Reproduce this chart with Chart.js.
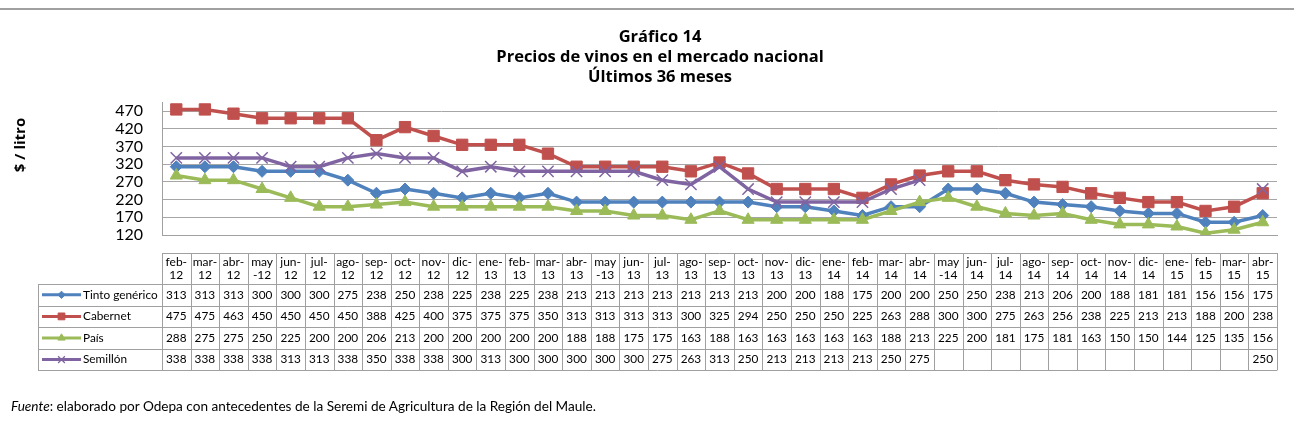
<!DOCTYPE html>
<html>
<head>
<meta charset="utf-8">
<script src="https://cdn.jsdelivr.net/npm/chart.js@4.4.1/dist/chart.umd.min.js"></script>
<style>
  html, body { margin: 0; padding: 0; background: #fff; }
  #wrap { position: relative; width: 1294px; height: 433px; }
  #note { position: absolute; left: 11px; top: 398px; font: 13.6px Lato, sans-serif; color: #000; }
</style>
</head>
<body>
<div id="wrap">
  <canvas id="chart" width="1294" height="433"></canvas>
  <div id="note"><i>Fuente</i>: elaborado por Odepa con antecedentes de la Seremi de Agricultura de la Región del Maule.</div>
</div>
<script>
const months = [
  "feb-12", "mar-12", "abr-12", "may-12", "jun-12", "jul-12", "ago-12", "sep-12", "oct-12", "nov-12", "dic-12",
  "ene-13", "feb-13", "mar-13", "abr-13", "may-13", "jun-13", "jul-13", "ago-13", "sep-13", "oct-13", "nov-13", "dic-13",
  "ene-14", "feb-14", "mar-14", "abr-14", "may-14", "jun-14", "jul-14", "ago-14", "sep-14", "oct-14", "nov-14", "dic-14",
  "ene-15", "feb-15", "mar-15", "abr-15",
];
const tinto = [313, 313, 313, 300, 300, 300, 275, 238, 250, 238, 225, 238, 225, 238, 213, 213, 213, 213, 213, 213, 213, 200, 200, 188, 175, 200, 200, 250, 250, 238, 213, 206, 200, 188, 181, 181, 156, 156, 175];
const cabernet = [475, 475, 463, 450, 450, 450, 450, 388, 425, 400, 375, 375, 375, 350, 313, 313, 313, 313, 300, 325, 294, 250, 250, 250, 225, 263, 288, 300, 300, 275, 263, 256, 238, 225, 213, 213, 188, 200, 238];
const pais = [288, 275, 275, 250, 225, 200, 200, 206, 213, 200, 200, 200, 200, 200, 188, 188, 175, 175, 163, 188, 163, 163, 163, 163, 163, 188, 213, 225, 200, 181, 175, 181, 163, 150, 150, 144, 125, 135, 156];
const semillon = [338, 338, 338, 338, 313, 313, 338, 350, 338, 338, 300, 313, 300, 300, 300, 300, 300, 275, 263, 313, 250, 213, 213, 213, 213, 250, 275, null, null, null, null, null, null, null, null, null, null, null, 250];
const seriesNames = ["Tinto genérico", "Cabernet", "País", "Semillón"];
const yTicks = [120, 170, 220, 270, 320, 370, 420, 470];
const titleLines = ["Gráfico 14", "Precios de vinos en el mercado nacional", "Últimos 36 meses"];
const yTitle = "$ / litro";

const FONT = "Lato, 'Open Sans', sans-serif";
const BOLD_FONT = "'Open Sans', Lato, sans-serif";

// excel wraps "may-12" as "may" / "-12", the rest as "feb-" / "12"
const splitMonth = (m) => {
  const [mon, yy] = m.split("-");
  return mon === "may" ? [mon, "-" + yy] : [mon + "-", yy];
};

const makeSet = (label, data, color, style, radius, order) => ({
  label,
  data,
  borderColor: color,
  backgroundColor: color,
  pointBackgroundColor: color,
  pointBorderColor: color,
  pointStyle: style,
  pointRadius: radius,
  pointBorderWidth: style === "crossRot" ? 1.5 : 1,
  borderWidth: 3.5,
  tension: 0,
  order,
});

const datasets = [
  makeSet(seriesNames[0], tinto, "#4f81bd", "rectRot", 6, 4),
  makeSet(seriesNames[1], cabernet, "#c0504d", "rect", 8, 3),
  makeSet(seriesNames[2], pais, "#9bbb59", "triangle", 7, 2),
  makeSet(seriesNames[3], semillon, "#8064a2", "crossRot", 8, 1),
];

const textPlugin = {
  id: "texts",
  afterDraw(chart) {
    const ctx = chart.ctx;
    ctx.save();
    ctx.fillStyle = "#a0a0a0";
    ctx.fillRect(0, 8, chart.width, 2);
    ctx.fillStyle = "#000";
    ctx.textAlign = "center";
    ctx.textBaseline = "middle";
    ctx.font = `bold 16.5px ${BOLD_FONT}`;
    [37, 57, 77].forEach((y, i) => ctx.fillText(titleLines[i], 660, y));
    ctx.translate(21, 145);
    ctx.rotate(-Math.PI / 2);
    ctx.font = `bold 15px ${BOLD_FONT}`;
    ctx.fillText(yTitle, 0, 0);
    ctx.restore();
  },
};

const tablePlugin = {
  id: "dataTable",
  afterDraw(chart) {
    const ctx = chart.ctx;
    const xs = chart.scales.x;
    const n = months.length;
    const colW = (xs.right - xs.left) / n;
    const top = 253;
    const headH = 31;
    const rowH = 21.6;
    const legLeft = 38;
    const rows = [tinto, cabernet, pais, semillon];
    const bottom = top + headH + rowH * rows.length;
    const px = (v) => Math.round(v) + 0.5;

    ctx.save();
    ctx.strokeStyle = "#a0a0a0";
    ctx.lineWidth = 1;
    ctx.beginPath();
    // vertical lines of the month columns
    for (let i = 0; i <= n; i += 1) {
      const x = px(xs.left + i * colW);
      ctx.moveTo(x, top);
      ctx.lineTo(x, bottom);
    }
    ctx.moveTo(px(legLeft), top + headH);
    ctx.lineTo(px(legLeft), bottom);
    ctx.moveTo(xs.left, px(top));
    ctx.lineTo(xs.right, px(top));
    for (let r = 0; r <= rows.length; r += 1) {
      const y = px(top + headH + r * rowH);
      ctx.moveTo(legLeft, y);
      ctx.lineTo(xs.right, y);
    }
    ctx.stroke();

    ctx.fillStyle = "#000";
    ctx.textAlign = "center";
    ctx.textBaseline = "middle";
    ctx.font = `12px ${FONT}`;
    months.forEach((m, i) => {
      const cx = xs.getPixelForValue(i);
      const [a, b] = splitMonth(m);
      ctx.fillText(a, cx, top + 9);
      ctx.fillText(b, cx, top + 22);
    });

    rows.forEach((vals, r) => {
      const cy = top + headH + r * rowH + rowH / 2;
      ctx.fillStyle = "#000";
      ctx.textAlign = "center";
      ctx.font = `11.8px ${FONT}`;
      vals.forEach((v, i) => {
        if (v === null) return;
        ctx.fillText(String(v), xs.getPixelForValue(i), cy);
      });
      const ds = datasets[r];
      ctx.strokeStyle = ds.borderColor;
      ctx.lineWidth = 3;
      ctx.beginPath();
      ctx.moveTo(42, cy);
      ctx.lineTo(81, cy);
      ctx.stroke();
      ctx.fillStyle = ds.borderColor;
      ctx.lineWidth = ds.pointStyle === "crossRot" ? 1.2 : 1;
      Chart.helpers.drawPoint(ctx, { pointStyle: ds.pointStyle, radius: ds.pointRadius * 0.6, rotation: 0, borderWidth: 1 }, 61.5, cy);
      ctx.fillStyle = "#000";
      ctx.textAlign = "left";
      ctx.font = `11.8px ${FONT}`;
      ctx.fillText(seriesNames[r], 83, cy);
    });
    ctx.restore();
  },
};

new Chart(document.getElementById("chart"), {
  type: "line",
  data: { labels: months, datasets },
  options: {
    responsive: false,
    animation: false,
    devicePixelRatio: 1,
    layout: { padding: { top: 102, bottom: 190, left: 0, right: 17 } },
    plugins: { legend: { display: false }, tooltip: { enabled: false }, title: { display: false } },
    scales: {
      x: {
        type: "category",
        offset: true,
        grid: { display: false },
        ticks: { display: false },
        border: { display: true, color: "#a0a0a0", width: 1 },
      },
      y: {
        min: 120,
        max: 496,
        afterBuildTicks: (scale) => {
          scale.ticks = yTicks.map((v) => ({ value: v }));
        },
        afterFit: (scale) => {
          scale.width = 162;
        },
        grid: { color: "#a6a6a6", drawTicks: false },
        border: { color: "#a0a0a0", width: 1 },
        ticks: { color: "#000", font: { family: FONT, size: 16 }, padding: 19, autoSkip: false },
      },
    },
  },
  plugins: [textPlugin, tablePlugin],
});
</script>
</body>
</html>
